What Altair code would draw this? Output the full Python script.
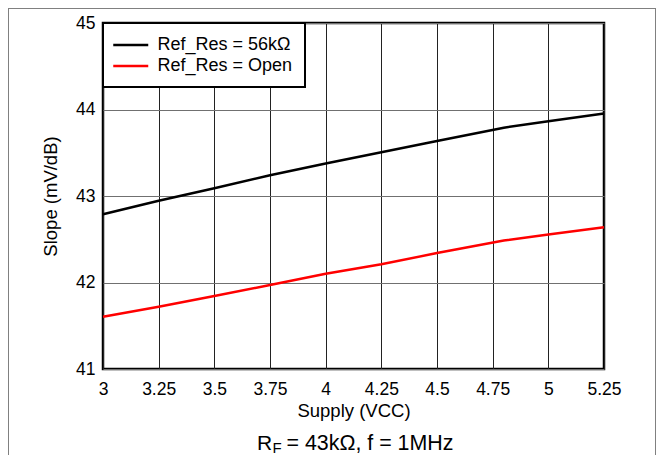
import altair as alt
import pandas as pd

# ---- data ----
supply = [3.0, 3.25, 3.5, 3.75, 4.0, 4.25, 4.5, 4.8, 5.0, 5.25]
slope_56k = [42.79, 42.945, 43.09, 43.24, 43.375, 43.505, 43.635, 43.79, 43.865, 43.955]
slope_open = [41.605, 41.72, 41.845, 41.97, 42.10, 42.21, 42.34, 42.485, 42.555, 42.64]
series_names = ["Ref_Res = 56kΩ", "Ref_Res = Open"]
series_colors = ["#000000", "#ff0000"]
x_ticks = [3, 3.25, 3.5, 3.75, 4, 4.25, 4.5, 4.75, 5, 5.25]
y_ticks = [41, 42, 43, 44, 45]
x_title = "Supply (VCC)"
y_title = "Slope (mV/dB)"
note_main = ["R"]
note_sub = ["F"]
note_rest = ["= 43kΩ, f = 1MHz"]

rows = []
for name, vals in zip(series_names, [slope_56k, slope_open]):
    for s, v in zip(supply, vals):
        rows.append({"supply": s, "slope": v, "series": name})
df = pd.DataFrame(rows)

FONT = "Liberation Sans"

lines = alt.Chart(df).mark_line(strokeWidth=2.5).encode(
    x=alt.X(
        "supply:Q",
        scale=alt.Scale(domain=[3, 5.25], nice=False, zero=False),
        axis=alt.Axis(
            values=x_ticks, format=".2~f", title=x_title, grid=True,
            gridColor="#222222", gridWidth=1, ticks=False, domain=False,
            labelFontSize=17.5, labelPadding=11, labelFont=FONT, labelColor="black",
            labelFlush=False, labelOverlap=False,
            titleFontSize=18.5, titlePadding=4, titleFont=FONT,
            titleFontWeight="normal", titleColor="black",
        ),
    ),
    y=alt.Y(
        "slope:Q",
        scale=alt.Scale(domain=[41, 45], nice=False, zero=False),
        axis=alt.Axis(
            values=y_ticks, format="d", title=y_title, grid=True,
            gridColor="#707070", gridWidth=1, ticks=False, domain=False,
            labelFontSize=17.5, labelPadding=8, labelFont=FONT, labelColor="black",
            labelFlush=False, labelOverlap=False,
            titleFontSize=18.5, titlePadding=15, titleFont=FONT,
            titleFontWeight="normal", titleColor="black",
        ),
    ),
    color=alt.Color(
        "series:N",
        sort=series_names,
        scale=alt.Scale(domain=series_names, range=series_colors),
        legend=alt.Legend(
            title=None, orient="top-left", offset=0, fillColor="white",
            strokeColor="black", padding=12, rowPadding=2,
            symbolType="M-1.343,0H2.657", symbolSize=306.25,
            symbolStrokeWidth=2.5, labelFontSize=18,
            labelFont=FONT, labelOffset=22.5, labelColor="black", labelLimit=400,
        ),
    ),
)

one = pd.DataFrame({"a": [0]})
frame_top = alt.Chart(one).mark_rule(color="#808080", strokeWidth=1).encode(
    x=alt.value(-95), x2=alt.value(553), y=alt.value(-14.5))
frame_left = alt.Chart(one).mark_rule(color="#808080", strokeWidth=1).encode(
    x=alt.value(-94.5), y=alt.value(-15), y2=alt.value(470))
frame_right = alt.Chart(one).mark_rule(color="#808080", strokeWidth=1).encode(
    x=alt.value(552.5), y=alt.value(-15), y2=alt.value(470))

t_main = alt.Chart(pd.DataFrame({"t": note_main})).mark_text(
    align="left", baseline="alphabetic", fontSize=21, font=FONT, color="black"
).encode(x=alt.value(154), y=alt.value(427), text="t:N")
t_sub = alt.Chart(pd.DataFrame({"t": note_sub})).mark_text(
    align="left", baseline="alphabetic", fontSize=15, font=FONT, color="black"
).encode(x=alt.value(169.5), y=alt.value(429.5), text="t:N")
t_rest = alt.Chart(pd.DataFrame({"t": note_rest})).mark_text(
    align="left", baseline="alphabetic", fontSize=21.4, font=FONT, color="black"
).encode(x=alt.value(183.5), y=alt.value(427), text="t:N")

chart = alt.layer(lines, frame_top, frame_left, frame_right, t_main, t_sub, t_rest).properties(
    width=501, height=346,
    autosize=alt.AutoSizeParams(type="none"),
    padding={"left": 95, "top": 15, "right": 52, "bottom": 90},
).configure(background="white").configure_view(
    stroke="black", strokeWidth=2.5
).configure_legend(strokeWidth=2)

chart.save("out.html", embed_options={"renderer": "svg", "actions": False})
